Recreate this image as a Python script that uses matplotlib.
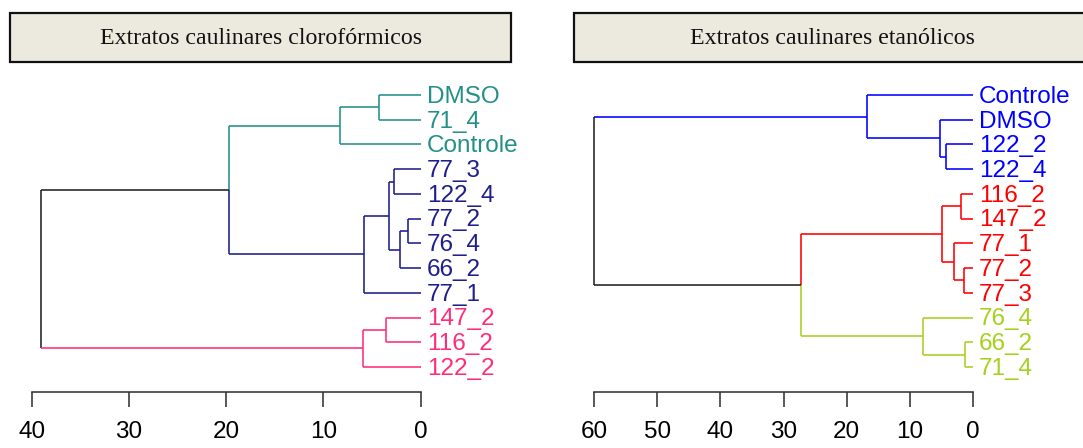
import matplotlib.pyplot as plt
from matplotlib.patches import Rectangle

W, H = 1083, 448

titles = ['Extratos caulinares clorofórmicos', 'Extratos caulinares etanólicos']

# left dendrogram (leaves top -> bottom)
left_leaves = ['DMSO', '71_4', 'Controle', '77_3', '122_4', '77_2', '76_4',
               '66_2', '77_1', '147_2', '116_2', '122_2']
left_groups = [0, 0, 0, 1, 1, 1, 1, 1, 1, 2, 2, 2]
left_colors = ['#229089', '#1E1E8C', '#FF2D78']
# (child a, child b, height); ids >= 12 refer to earlier merges
left_merges = [(0, 1, 4.25), (12, 2, 8.3), (3, 4, 2.7), (5, 6, 1.3),
               (15, 7, 2.1), (14, 16, 3.2), (17, 8, 5.8), (13, 18, 19.7),
               (9, 10, 3.6), (20, 11, 5.9), (19, 21, 39.1)]
left_ticks = [40, 30, 20, 10, 0]

# right dendrogram
right_leaves = ['Controle', 'DMSO', '122_2', '122_4', '116_2', '147_2', '77_1',
                '77_2', '77_3', '76_4', '66_2', '71_4']
right_groups = [0, 0, 0, 0, 1, 1, 1, 1, 1, 2, 2, 2]
right_colors = ['#0000FF', '#FF0000', '#A6D01E']
right_merges = [(2, 3, 4.2), (1, 12, 5.2), (0, 13, 16.8), (4, 5, 1.9),
                (7, 8, 1.4), (6, 16, 2.95), (15, 17, 4.9), (10, 11, 1.3),
                (9, 19, 7.85), (18, 20, 27.2), (14, 21, 60.0)]
right_ticks = [60, 50, 40, 30, 20, 10, 0]

BLACK = '#222222'


def draw_dendro(ax, leaves, groups, colors, merges, ticks):
    n = len(leaves)
    ys = list(range(n))
    hs = [0.0] * n
    grp = list(groups)
    for a, b, h in merges:
        ys.append((ys[a] + ys[b]) / 2)
        hs.append(h)
        grp.append(grp[a] if grp[a] == grp[b] else None)
    root = len(ys) - 1
    for k, (a, b, h) in enumerate(merges):
        node = n + k
        for c in (a, b):
            col = colors[grp[c]] if grp[c] is not None else BLACK
            vcol = BLACK if node == root else col
            ax.plot([hs[node], hs[node]], [ys[node], ys[c]], color=vcol,
                    lw=1.15, clip_on=False, solid_capstyle='butt')
            ax.plot([hs[node], hs[c]], [ys[c], ys[c]], color=col,
                    lw=1.15, clip_on=False, solid_capstyle='butt')
    for i, name in enumerate(leaves):
        ax.annotate(name, (0, i), xytext=(4.5, -1.3), textcoords='offset points',
                    va='center', ha='left', color=colors[groups[i]],
                    fontsize=17.5, family='Liberation Sans', annotation_clip=False)
    ax.set_xlim(ticks[0], ticks[-1])
    ax.set_ylim(12.0, 0)
    ax.set_xticks(ticks)
    ax.set_yticks([])
    for s in ['top', 'left', 'right']:
        ax.spines[s].set_visible(False)
    ax.spines['bottom'].set_color('#333333')
    ax.spines['bottom'].set_linewidth(1.15)
    ax.tick_params(axis='x', direction='out', length=11, width=1.15,
                   color='#333333', pad=10, labelsize=17.5)
    for lab in ax.get_xticklabels():
        lab.set_family('Liberation Sans')
    ax.patch.set_visible(False)


fig = plt.figure(figsize=(W / 100, H / 100), dpi=100)

y_top, y_axis = 95, 391.7
panels = [
    (32, 420.5, left_leaves, left_groups, left_colors, left_merges, left_ticks),
    (594, 973, right_leaves, right_groups, right_colors, right_merges, right_ticks),
]
for x0, x1, leaves, groups, colors, merges, ticks in panels:
    ax = fig.add_axes([x0 / W, (H - y_axis) / H, (x1 - x0) / W, (y_axis - y_top) / H])
    draw_dendro(ax, leaves, groups, colors, merges, ticks)

# title boxes
boxes = [(10, 511), (574, 1090)]
for (bx0, bx1), title in zip(boxes, titles):
    rect = Rectangle((bx0 / W, 1 - 62 / H), (bx1 - bx0) / W, 49 / H,
                     transform=fig.transFigure, facecolor='#ECE9DF',
                     edgecolor='#111111', linewidth=1.6)
    fig.add_artist(rect)
    fig.text((bx0 + bx1) / 2 / W, 1 - 38.5 / H, title, ha='center', va='center',
             fontsize=17.2, family='Liberation Serif', color='#111111')

fig.savefig('out.png', dpi=100)
